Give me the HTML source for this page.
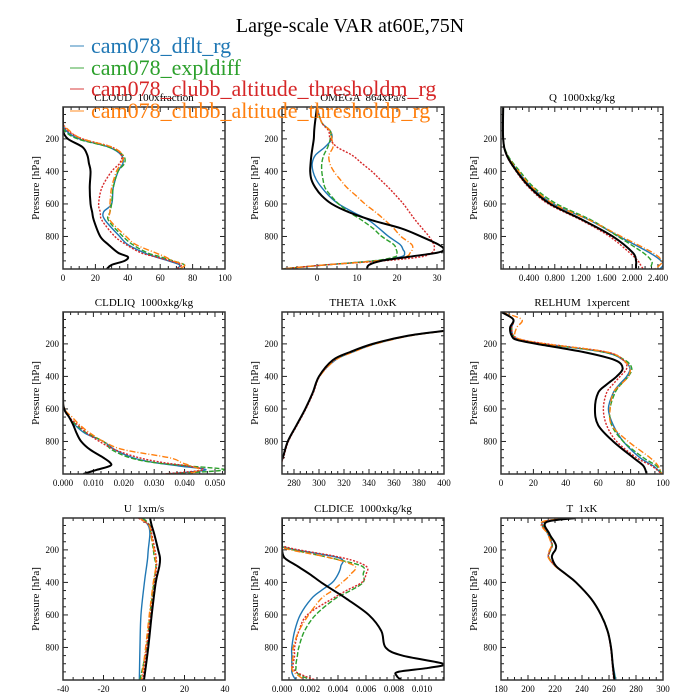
<!DOCTYPE html>
<html><head><meta charset="utf-8"><style>
html,body{margin:0;padding:0;background:#fff;}
svg{display:block;font-family:"Liberation Serif",serif;}
text{white-space:pre;}
</style></head><body>
<svg id="chart" width="700" height="700" viewBox="0 0 700 700" xmlns="http://www.w3.org/2000/svg">
<text x="350" y="32" text-anchor="middle" font-size="20">Large-scale VAR at60E,75N</text>
<g id="panels"></g>
<g id="legend"></g>
</svg>
<script>
const seriesNames=["cam078_dflt_rg","cam078_expldiff","cam078_clubb_altitude_thresholdm_rg","cam078_clubb_altitude_thresholdp_rg","obs"];
const seriesColors=["#1f77b4","#2ca02c","#d62728","#ff7f0e","#000000"];
const seriesDash=["","5,2","2,1.5","6,2,1,2",""];
const seriesWidth=[1.4,1.4,1.4,1.4,2];

const cloudP=[5,100,150,200,250,300,350,400,500,600,650,700,800,850,900,925,950,975,1000];
const cloudBlue=[0,0,2,10,28,36,37,34,31,30,25,26,35,40,50,57,65,72,70];
const cloudGreen=[0,0,1,9,28,37,38,34,31,30,29,28,37,43,52,60,68,75,72];
const cloudRed=[0,0,3,12,30,36,35,30,24,22,23,24,32,39,48,57,66,73,70];
const cloudOrange=[0,0,4,12,30,37,36,33,30,29,29,29,39,45,57,63,68,75,72];
const cloudBlack=[0,0,0,3,12,15,16,17,16.5,17,18,19,23,28,34,40,38,30,27];

const omegaP=[5,100,150,200,250,300,350,400,450,500,550,600,650,700,750,800,850,880,900,925,950,975,1000];
const omegaBlue=[0,1.2,3.3,3.7,2,-0.4,-1.2,-1,-0.2,1.2,3,5.4,9,12.9,15.5,17.9,20.8,21.5,21.9,21,14.6,2,-9];
const omegaGreen=[0,1.2,3.3,3.3,2.7,1.7,1.2,1.2,1.5,2,3.5,5.4,8,11.2,14,16.2,19.2,19.8,20,19.5,14,2,-9];
const omegaRed=[0,1.2,2.9,3.3,5,8.75,11.2,13.7,15.8,17.9,19.8,21.6,23.1,24.6,26.3,28,29.2,29.3,28.7,26,16.5,2,-9];
const omegaOrange=[0,1.2,3.3,3.7,4,3,3.2,4.2,5.8,7.5,9.8,12,14.6,17,19.2,21,23.7,23.8,23.3,22,15,2,-9];
const omegaBlack=[0,-0.5,-0.7,-0.8,-1.1,-1.4,-1.6,-1.7,-1.4,-0.4,1.2,3.7,7.9,13.7,21,26,30.4,31.7,30,23,16,13,12.5];

const qP=[5,200,300,400,500,600,700,800,900,950,975,1000];
const qBlue=[0,0,0.06,0.23,0.45,0.78,1.34,1.80,2.27,2.45,2.48,2.43];
const qGreen=[0,0,0.07,0.26,0.48,0.83,1.37,1.78,2.17,2.30,2.30,2.27];
const qRed=[0,0,0.05,0.2,0.4,0.70,1.21,1.65,1.96,2.09,2.13,2.17];
const qOrange=[0,0,0.06,0.24,0.46,0.78,1.34,1.83,2.32,2.46,2.43,2.35];
const qBlack=[0,0,0.054,0.21,0.42,0.73,1.24,1.70,2.01,2.06,2.06,2.06];

const liqP=[5,500,600,650,700,750,800,850,900,930,950,975,1000];
const liqBlue=[0,0,0.0004,0.002,0.004,0.0073,0.0133,0.017,0.023,0.03,0.038,0.047,0.034];
const liqGreen=[0,0,0.0004,0.002,0.0045,0.008,0.0133,0.016,0.022,0.03,0.041,0.053,0.034];
const liqRed=[0,0,0.0004,0.002,0.005,0.008,0.012,0.017,0.025,0.033,0.0407,0.046,0.033];
const liqOrange=[0,0,0.0006,0.003,0.0056,0.009,0.0133,0.0198,0.035,0.039,0.042,0.045,0.0407];
const liqBlack=[0,0,0.0004,0.002,0.0034,0.0045,0.006,0.0089,0.0133,0.0155,0.0155,0.011,0.0067];

const thetaP=[5,100,120,150,200,250,300,400,500,600,700,800,900,1000];
const thetaBlue=[600,420,401,372,345,327,313,300,295,289,282,275,271,266];
const thetaGreen=[600,420,400.5,371.5,344,326,312,300,295,289,282,275,271,266];
const thetaRed=[600,420,400,371,343.5,326,312,300.5,295.5,289.5,282.5,275.5,271.5,266.5];
const thetaOrange=[600,420,402,373,345.5,327.5,313,300.5,295,289,282,275,271,266];
const thetaBlack=[600,420,400,371,343,325,311,300,295,289,282,275,271,266];

const rhP=[5,50,100,150,175,200,250,300,350,400,450,500,600,700,800,900,950,1000];
const rhBlue=[0.4,7.6,6.6,7.6,12,26.1,63.2,75.5,79.6,77.6,73,69.3,66.3,69.3,75.5,85.8,94,99.2];
const rhGreen=[0.4,7.6,6.6,7.6,12,26.1,63.2,76.5,80.7,78.6,74,70.4,67.3,68.3,75.5,87.9,96,99.2];
const rhRed=[0.4,7.6,6.6,7.6,13,28.2,65.2,75.5,77.6,73.5,69,65.2,63.2,65.2,71.4,83.7,93,99.2];
const rhOrange=[0.4,12.8,9.7,8.6,13,27.2,65.2,75.5,79.6,78.6,74,69.3,67.3,68.3,78.6,92,97,99.2];
const rhBlack=[0.4,7.6,5.6,6.6,9.7,22,50.8,70.4,75.1,71.4,65.2,60,58,60,69.3,81.7,87.9,89.9];

const uP=[5,50,100,200,250,300,400,600,800,1000];
const uBlue=[-1.1,2.1,2.9,2.1,1.8,1.3,0.2,-1.5,-2,-2.3];
const uGreen=[-0.4,2.9,3.4,4.6,5.2,5.9,4.9,2.9,1.3,-2];
const uRed=[-2.7,2.9,3.8,5.4,6,6.2,5.4,3.3,1.3,-0.7];
const uOrange=[-2,2.5,3.4,4.9,5.6,5.9,4.6,2.6,0.8,-1.2];
const uBlack=[3,3.8,5,7,7.9,7.6,5.8,3.8,2.1,0];

const iceP=[5,170,180,200,250,300,350,400,450,500,600,700,800,850,900,925,950,975,1000];
const iceBlue=[0,0,0,0.001,0.0041,0.0042,0.004,0.0036,0.0028,0.0021,0.0013,0.0009,0.0007,0.0007,0.0007,0.0007,0.0007,0.0008,0.001];
const iceGreen=[0,0,0,0.0008,0.0035,0.0057,0.0058,0.0058,0.0049,0.0038,0.0024,0.0016,0.0012,0.0011,0.001,0.001,0.001,0.0014,0.0021];
const iceRed=[0,0,0.0002,0.0012,0.0044,0.006,0.006,0.0057,0.0046,0.0036,0.0018,0.0012,0.0009,0.0009,0.0008,0.0008,0.001,0.0016,0.0024];
const iceOrange=[0,0,0,0.0006,0.0035,0.0052,0.0049,0.0043,0.0036,0.0028,0.0019,0.0012,0.0008,0.0008,0.0007,0.0007,0.0008,0.0012,0.0016];
const iceBlack=[0,0,0,0,0.0002,0.0011,0.002,0.0028,0.0037,0.0046,0.0062,0.0071,0.0074,0.0086,0.0115,0.0105,0.0083,0.0082,0.0085];

const tP=[5,30,100,150,175,200,225,250,300,350,400,500,600,700,800,900,1000];
const tBlue=[230,210.9,214.6,217.1,217.8,216.5,215.3,215.4,220.3,228,235.4,246.7,254.1,259,261.5,262.9,265];
const tGreen=[230,211.5,215,217.5,218,216.8,215.6,215.6,220.5,228.2,235.6,246.8,254.3,259.2,261.6,262.8,264.5];
const tRed=[230,211,214.8,217.3,217.8,216.6,215.5,215.5,220.3,228,235.4,246.6,254,258.8,261.2,262.4,263.5];
const tOrange=[230,210,214.4,216.8,217.4,216,215,215.2,220,228,235.4,246.7,254.1,259,261.5,262.7,264];
const tBlack=[235,213.4,215.8,219.5,220.8,220.3,218.3,217.8,220.8,228.2,235.6,246.7,254.1,259,261.5,262.7,264];

const panelTitles=["CLOUD  100xfraction","OMEGA  864xPa/s","Q  1000xkg/kg","CLDLIQ  1000xkg/kg","THETA  1.0xK","RELHUM  1xpercent","U  1xm/s","CLDICE  1000xkg/kg","T  1xK"];
const xTickLabels=[["0","20","40","60","80","100"],["0","10","20","30"],["0.400","0.800","1.200","1.600","2.000","2.400"],["0.000","0.010","0.020","0.030","0.040","0.050"],["280","300","320","340","360","380","400"],["0","20","40","60","80","100"],["-40","-20","0","20","40"],["0.000","0.002","0.004","0.006","0.008","0.010"],["180","200","220","240","260","280","300"]];
const yTickLabels=["200","400","600","800"];

const panels=[
 {name:"cloud",col:0,row:0,xmin:0,xmax:100,step:20,p:cloudP,s:[cloudBlue,cloudGreen,cloudRed,cloudOrange,cloudBlack]},
 {name:"omega",col:1,row:0,xmin:-8.75,xmax:31.75,step:10,p:omegaP,s:[omegaBlue,omegaGreen,omegaRed,omegaOrange,omegaBlack]},
 {name:"q",col:2,row:0,xmin:-0.034,xmax:2.478,step:0.4,p:qP,s:[qBlue,qGreen,qRed,qOrange,qBlack]},
 {name:"cldliq",col:0,row:1,xmin:0,xmax:0.0533,step:0.01,p:liqP,s:[liqBlue,liqGreen,liqRed,liqOrange,liqBlack]},
 {name:"theta",col:1,row:1,xmin:270.4,xmax:400,step:20,p:thetaP,s:[thetaBlue,thetaGreen,thetaRed,thetaOrange,thetaBlack]},
 {name:"relhum",col:2,row:1,xmin:0,xmax:100,step:20,p:rhP,s:[rhBlue,rhGreen,rhRed,rhOrange,rhBlack]},
 {name:"u",col:0,row:2,xmin:-40,xmax:40,step:20,p:uP,s:[uBlue,uGreen,uRed,uOrange,uBlack]},
 {name:"cldice",col:1,row:2,xmin:0,xmax:0.01157,step:0.002,p:iceP,s:[iceBlue,iceGreen,iceRed,iceOrange,iceBlack]},
 {name:"t",col:2,row:2,xmin:180,xmax:300,step:20,p:tP,s:[tBlue,tGreen,tRed,tOrange,tBlack]}
];
const colX=[63,282,501], rowY=[107,312,518], W=162, H=162, PTOP=4, PBOT=1000;
const NS="http://www.w3.org/2000/svg";
const root=document.getElementById("panels");
function mk(tag,attrs,parent){const e=document.createElementNS(NS,tag);for(const k in attrs)e.setAttribute(k,attrs[k]);if(parent)parent.appendChild(e);return e;}
function smooth(pts){
  let d="M"+pts[0][0].toFixed(2)+","+pts[0][1].toFixed(2);
  for(let i=0;i<pts.length-1;i++){
    const p0=pts[Math.max(0,i-1)],p1=pts[i],p2=pts[i+1],p3=pts[Math.min(pts.length-1,i+2)];
    const t=0.5/3;
    const c1=[p1[0]+(p2[0]-p0[0])*t,p1[1]+(p2[1]-p0[1])*t];
    const c2=[p2[0]-(p3[0]-p1[0])*t,p2[1]-(p3[1]-p1[1])*t];
    d+=" C"+c1[0].toFixed(2)+","+c1[1].toFixed(2)+" "+c2[0].toFixed(2)+","+c2[1].toFixed(2)+" "+p2[0].toFixed(2)+","+p2[1].toFixed(2);
  }
  return d;
}
const defs=mk("defs",{},root);

panels.forEach((pn,i)=>{
  const x0=colX[pn.col], y0=rowY[pn.row];
  const xs=v=>x0+(v-pn.xmin)/(pn.xmax-pn.xmin)*W;
  const ys=p=>y0+(p-PTOP)/(PBOT-PTOP)*H;
  const g=mk("g",{},root);
  
  
  const cp=mk("clipPath",{id:"clip"+i},defs);
  mk("rect",{x:x0,y:y0,width:W,height:H},cp);
  const t=mk("text",{x:x0+W/2,y:y0-6,"text-anchor":"middle","font-size":"11"},g);
  t.textContent=panelTitles[i];
  
  
  for(let p=50;p<1000;p+=50){
    const y=ys(p), major=(p%200===0);
    const L=major?5:3;
    mk("line",{x1:x0,y1:y,x2:x0+L,y2:y,stroke:"#222","stroke-width":1},g);
    mk("line",{x1:x0+W,y1:y,x2:x0+W-L,y2:y,stroke:"#222","stroke-width":1},g);
  }
  yTickLabels.forEach(lbl=>{
    const tl=mk("text",{x:x0-4,y:ys(+lbl)+3,"text-anchor":"end","font-size":"9"},g);
    tl.textContent=lbl;
    
    
  });
  const yl=mk("text",{x:0,y:0,"text-anchor":"middle","font-size":"11",transform:`translate(${x0-24},${y0+H/2}) rotate(-90)`},g);
  yl.textContent="Pressure [hPa]";
  
  
  const labels=xTickLabels[i];
  const minor=pn.step/4;
  const startM=Math.ceil((pn.xmin-1e-9)/minor);
  for(let k=startM;k*minor<=pn.xmax+1e-9;k++){
    const v=k*minor; const x=xs(v);
    const major=Math.abs(Math.round(v/pn.step)*pn.step-v)<minor*0.1;
    const L=major?5:3;
    mk("line",{x1:x,y1:y0+H,x2:x,y2:y0+H-L,stroke:"#222","stroke-width":1},g);
    mk("line",{x1:x,y1:y0,x2:x,y2:y0+L,stroke:"#222","stroke-width":1},g);
  }
  labels.forEach(lbl=>{
    const tl=mk("text",{x:xs(parseFloat(lbl)),y:y0+H+12,"text-anchor":"middle","font-size":"9"},g);
    tl.textContent=lbl;
    
    
  });
  const sg=mk("g",{"clip-path":`url(#clip${i})`},g);
  pn.s.forEach((vals,si)=>{
    const pts=vals.map((v,k)=>[xs(v),ys(pn.p[k])]);
    const path=mk("path",{d:smooth(pts),fill:"none",stroke:seriesColors[si],"stroke-width":seriesWidth[si],"stroke-linejoin":"round"},sg);
    if(seriesDash[si])path.setAttribute("stroke-dasharray",seriesDash[si]);
    
    
  });
  const fr=mk("rect",{x:x0,y:y0,width:W,height:H,fill:"none",stroke:"#333","stroke-width":1.5},g);
  
  
});

const leg=document.getElementById("legend");
const legY=[53,75,96,118];
for(let i=0;i<4;i++){
  const e=mk("g",{},leg);
  
  
  mk("line",{x1:70,y1:legY[i]-7,x2:84,y2:legY[i]-7,stroke:seriesColors[i],"stroke-width":1.5,opacity:0.6},e);
  const t=mk("text",{x:91,y:legY[i],"font-size":"22",fill:seriesColors[i]},e);
  t.textContent=seriesNames[i];
}
</script>
</body></html>
